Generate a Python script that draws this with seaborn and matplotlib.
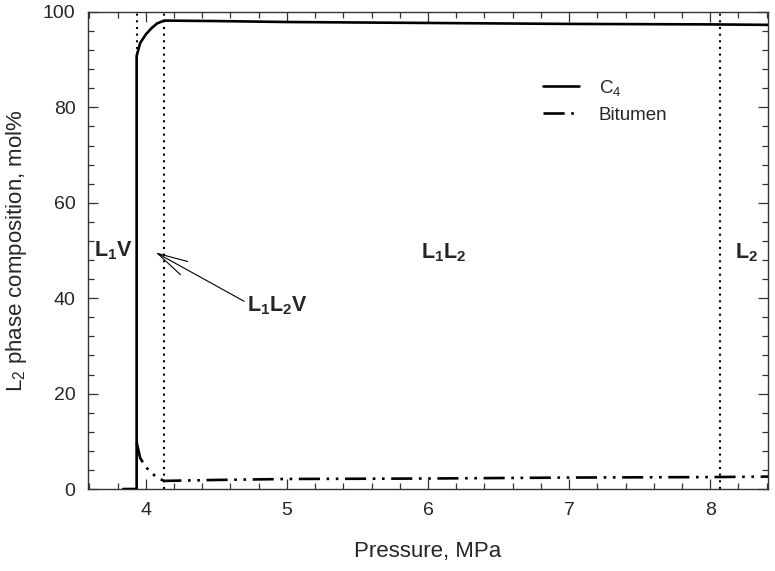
import matplotlib
matplotlib.use('Agg')
import matplotlib.pyplot as plt
import seaborn as sns
import numpy as np
import pandas as pd
from matplotlib.ticker import MultipleLocator

sns.set_style('ticks')
plt.rcParams['font.family'] = ['Liberation Sans', 'DejaVu Sans']
plt.rcParams['mathtext.fontset'] = 'custom'
plt.rcParams['mathtext.rm'] = 'Liberation Sans'
plt.rcParams['mathtext.it'] = 'Liberation Sans:italic'
plt.rcParams['mathtext.bf'] = 'Liberation Sans:bold'

# L2 phase composition vs pressure
c4_p = [3.84, 3.935, 3.935, 3.96, 4.00, 4.04, 4.08, 4.13, 4.5, 5.0, 6.0, 7.0, 8.0, 8.41]
c4_y = [0, 0, 90.8, 93.5, 95.3, 96.6, 97.6, 98.2, 98.1, 97.9, 97.7, 97.5, 97.4, 97.3]
bit_p = [3.935, 3.96, 4.00, 4.05, 4.10, 4.13, 4.5, 5.0, 6.0, 7.0, 8.0, 8.41]
bit_y = [9.8, 6.5, 4.6, 3.1, 2.1, 1.7, 1.9, 2.1, 2.2, 2.4, 2.5, 2.6]

# phase boundaries, MPa
boundaries = [3.935, 4.13, 8.07]

df_c4 = pd.DataFrame({'p': c4_p, 'x': c4_y})
df_bit = pd.DataFrame({'p': bit_p, 'x': bit_y})

fig = plt.figure(figsize=(7.75, 5.71), dpi=100)
ax = fig.add_axes([0.1135, 0.1436, 0.8775, 0.8354])

for b in boundaries:
    ax.axvline(b, color='black', lw=1.5, linestyle=(0, (1, 2.2)), zorder=1)

sns.lineplot(data=df_c4, x='p', y='x', ax=ax, sort=False, estimator=None,
             color='black', lw=1.9, label='C$_4$', zorder=3)
sns.lineplot(data=df_bit, x='p', y='x', ax=ax, sort=False, estimator=None,
             color='black', lw=1.9, label='Bitumen', zorder=3,
             linestyle=(0, (8, 2.5, 1, 2.5, 1, 2.5)))

ax.set_xlim(3.59, 8.41)
ax.set_ylim(0, 100)
ax.xaxis.set_major_locator(MultipleLocator(1))
ax.xaxis.set_minor_locator(MultipleLocator(0.2))
ax.yaxis.set_major_locator(MultipleLocator(20))
ax.yaxis.set_minor_locator(MultipleLocator(4))
ax.tick_params(which='both', direction='in', top=True, right=True,
               color='#333333', width=0.9, labelsize=14, pad=9)
ax.tick_params(which='major', length=7)
ax.tick_params(which='minor', length=4)
for s in ax.spines.values():
    s.set_linewidth(1.0)
    s.set_color('#333333')

ax.set_xlabel('Pressure, MPa', fontsize=16, labelpad=16)
ax.set_ylabel('L$_2$ phase composition, mol%', fontsize=16, labelpad=10)

ax.text(3.77, 50, r'$\mathbf{L_1V}$', fontsize=15.5, ha='center', va='center')
ax.text(6.11, 49.5, r'$\mathbf{L_1L_2}$', fontsize=15.5, ha='center', va='center')
ax.text(8.26, 49.5, r'$\mathbf{L_2}$', fontsize=15.5, ha='center', va='center')
ax.annotate(r'$\mathbf{L_1L_2V}$', xy=(4.07, 49.6), xytext=(4.72, 38.5),
            fontsize=15.5, ha='left', va='center',
            arrowprops=dict(arrowstyle='->,head_length=1.4,head_width=0.35',
                            lw=0.8, color='black', shrinkA=0, shrinkB=0,
                            relpos=(0, 0.6)))

leg = ax.legend(loc='upper left', bbox_to_anchor=(0.645, 0.897), frameon=False,
                fontsize=13.5, handlelength=1.9, labelspacing=0.45, handletextpad=1.05)

plt.savefig('out.png', dpi=100)
